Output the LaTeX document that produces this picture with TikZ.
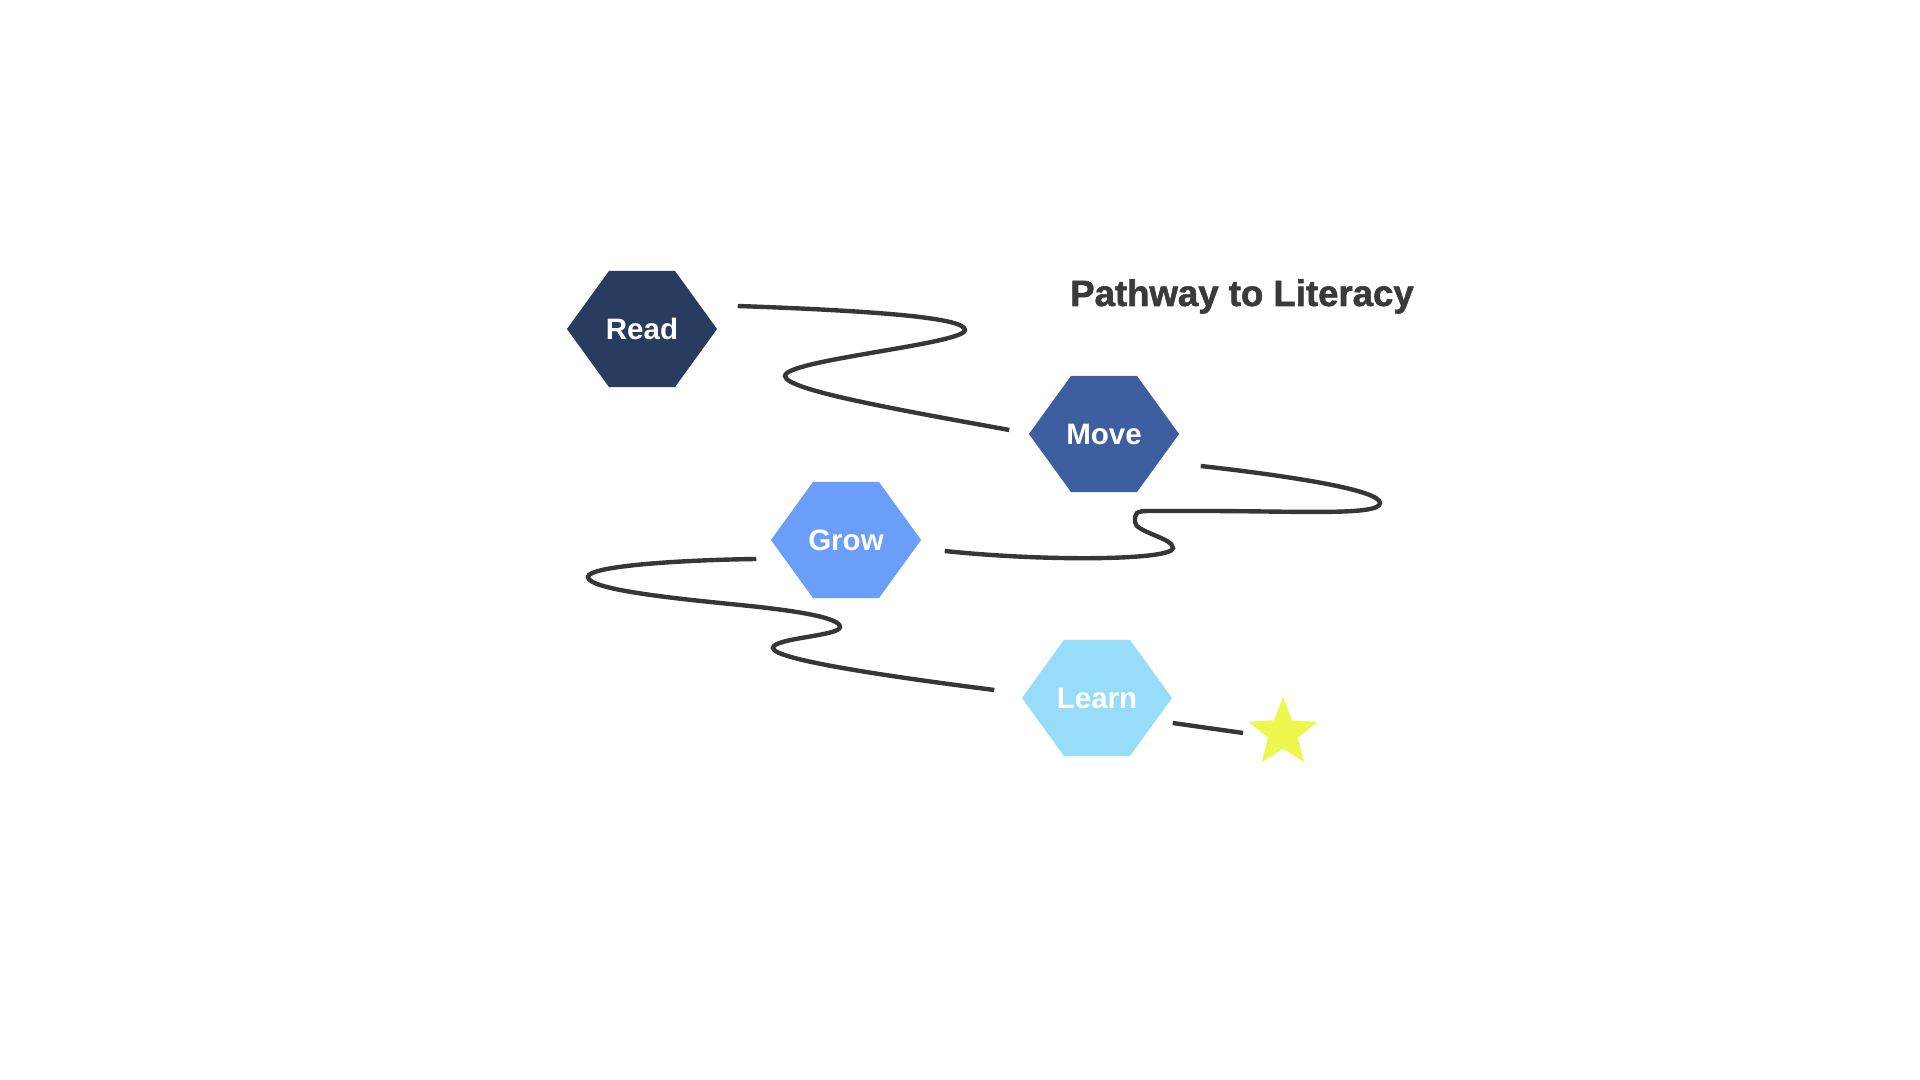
\documentclass[tikz,border=0pt]{standalone}
\usepackage{fontspec}
\setmainfont{Liberation Sans}
\newfontfamily\titlefont[FakeBold=1.6]{Liberation Sans Bold}
\usepackage{tikz}
\usetikzlibrary{shapes.geometric,positioning}

\definecolor{readblue}{HTML}{283C5F}
\definecolor{moveblue}{HTML}{3D5FA0}
\definecolor{growblue}{HTML}{6A9EF8}
\definecolor{learnblue}{HTML}{97DCF9}
\definecolor{goalyellow}{HTML}{EDF84F}
\definecolor{pathgray}{HTML}{363636}
\definecolor{titlegray}{HTML}{3A3A3A}

\begin{document}
\begin{tikzpicture}[
  x=0.01cm, y=-0.01cm,
  hexa/.style={minimum width=1.5cm,minimum height=1.16cm,inner sep=0pt,text=white,
    font=\fontsize{8.4}{10}\selectfont\bfseries,
    path picture={\fill[#1] (path picture bounding box.west)
      -- ([xshift=-3.3mm]path picture bounding box.north) -- ([xshift=3.3mm]path picture bounding box.north)
      -- (path picture bounding box.east)
      -- ([xshift=3.3mm]path picture bounding box.south) -- ([xshift=-3.3mm]path picture bounding box.south)
      -- cycle;}},
  wave/.style={draw=pathgray,line width=1.25pt},
  ttl/.style={font=\fontsize{10.4}{12}\selectfont\titlefont,text=titlegray}
]
\useasboundingbox (0,0) rectangle (1920,1080);

\node[hexa=readblue]  (read)  at (642,329)  {Read};
\node[hexa=moveblue]  (move)  at (1104,434) {Move};
\node[hexa=growblue]  (grow)  at (846,540)  {Grow};
\node[hexa=learnblue] (learn) at (1097,698) {Learn};
\node[star,star points=5,star point ratio=2.3,fill=goalyellow,minimum size=0.72cm,inner sep=0pt] (goal) at (1283,733) {};
\node[ttl,anchor=base] (title) at (1242,306) {Pathway to Literacy};

% winding path between the steps
\draw[wave] ([shift={(20,-23)}]read.east) .. controls (880,311) and (965,318) .. (965,330)
  .. controls (965,344) and (785,360) .. (785,376)
  .. controls (785,390) and (900,410) .. ([shift={(-19,-4)}]move.west);
\draw[wave] ([shift={(21,32)}]move.east) .. controls (1290,476) and (1380,490) .. (1380,503)
  .. controls (1380,516) and (1300,511) .. (1200,511)
  -- (1150,511) .. controls (1135,511) and (1135,513) .. (1135,522)
  .. controls (1135,532) and (1173,538) .. (1173,548)
  .. controls (1173,560) and (1050,562) .. ([shift={(23,11)}]grow.east);
\draw[wave] ([shift={(-14,19)}]grow.west) .. controls (680,560) and (588,566) .. (588,577)
  .. controls (588,590) and (680,599) .. (740,605)
  .. controls (800,611) and (840,618) .. (840,627)
  .. controls (840,636) and (773,638) .. (773,648)
  .. controls (773,660) and (900,678) .. ([shift={(-27,-8)}]learn.west);
\draw[wave] ([shift={(0,25)}]learn.east) -- ([shift={(-40,0)}]goal.center);
\end{tikzpicture}
\end{document}
